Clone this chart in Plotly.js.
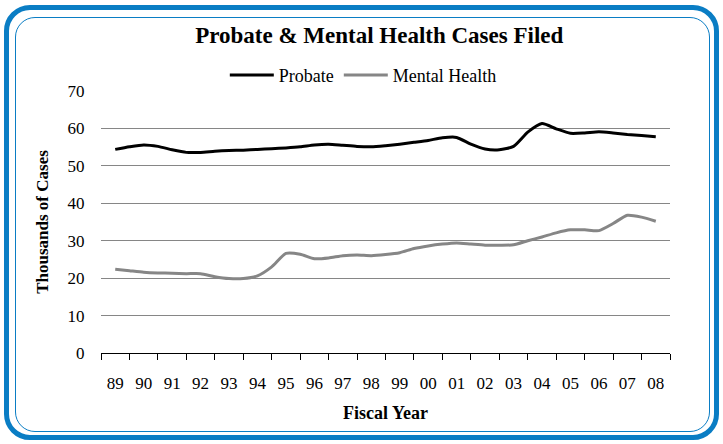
<!DOCTYPE html>
<html>
<head>
<meta charset="utf-8">
<script src="https://cdn.plot.ly/plotly-3.0.1.min.js"></script>
<style>
  html, body { margin: 0; padding: 0; background: #ffffff; }
  #wrap { position: relative; width: 723px; height: 444px; overflow: hidden; }
  #outer { position: absolute; left: 4px; top: 5px; width: 705px; height: 425px;
           border: 5px solid #0A7DC4; border-radius: 26px; }
  #inner { position: absolute; left: 15px; top: 17px; width: 693px; height: 413px;
           border: 1.5px solid #0A7DC4; border-radius: 20px; }
  #chart { position: absolute; left: 0; top: 0; width: 723px; height: 444px; }
</style>
</head>
<body>
<div id="wrap">
  <div id="outer"></div>
  <div id="inner"></div>
  <div id="chart"></div>
</div>
<script>
// Fiscal year tick labels
const yearLabels = ['89','90','91','92','93','94','95','96','97','98','99','00','01','02','03','04','05','06','07','08'];
const yearValues = [1989,1990,1991,1992,1993,1994,1995,1996,1997,1998,1999,2000,2001,2002,2003,2004,2005,2006,2007,2008];

// Half-year sample times
const sampleTimes = [1989,1989.5,1990,1990.5,1991,1991.5,1992,1992.5,1993,1993.5,1994,1994.5,1995,1995.5,
  1996,1996.5,1997,1997.5,1998,1998.5,1999,1999.5,2000,2000.5,2001,2001.5,2002,2002.5,2003,2003.5,
  2004,2004.5,2005,2005.5,2006,2006.5,2007,2007.5,2008];

// Thousands of cases filed
const probate = [54.4,55.1,55.6,55.2,54.3,53.6,53.6,53.9,54.1,54.2,54.4,54.6,54.8,55.1,
  55.6,55.8,55.5,55.2,55.1,55.4,55.8,56.3,56.8,57.5,57.6,55.8,54.5,54.3,55.2,59.0,
  61.3,59.9,58.7,58.8,59.1,58.8,58.4,58.1,57.8];
const mentalHealth = [22.4,22.0,21.6,21.4,21.3,21.2,21.2,20.4,19.9,19.9,20.6,23.0,26.6,26.4,
  25.2,25.4,26.0,26.2,26.0,26.3,26.8,27.9,28.6,29.1,29.4,29.1,28.8,28.8,28.9,30.0,
  31.0,32.1,32.9,32.9,32.7,34.6,36.8,36.3,35.2];

const boundaries = yearValues.map(v => v - 0.5).concat([yearValues[yearValues.length - 1] + 0.5]);

const font = 'Liberation Serif, Times New Roman, serif';

const traces = [
  { x: sampleTimes, y: probate, name: 'Probate', type: 'scatter', mode: 'lines',
    line: { color: '#000000', width: 3, shape: 'spline', smoothing: 0.6 } },
  { x: sampleTimes, y: mentalHealth, name: 'Mental Health', type: 'scatter', mode: 'lines',
    line: { color: '#868686', width: 3, shape: 'spline', smoothing: 0.6 } }
];

const layout = {
  width: 723, height: 444,
  paper_bgcolor: 'rgba(0,0,0,0)',
  plot_bgcolor: 'rgba(0,0,0,0)',
  margin: { l: 101, r: 53, t: 91, b: 91 },
  font: { family: font, color: '#000000' },
  title: { text: '<b>Probate & Mental Health Cases Filed</b>', font: { family: font, size: 23, color: '#000' },
           xref: 'paper', x: 0.489, xanchor: 'center', yref: 'container', y: 0.921, yanchor: 'middle' },
  showlegend: true,
  legend: { orientation: 'h', xref: 'paper', x: 0.461, xanchor: 'center', yref: 'paper', y: 1.06, yanchor: 'middle',
            font: { family: font, size: 18, color: '#000' }, bgcolor: 'rgba(0,0,0,0)', itemwidth: 44 },
  xaxis: {
    range: [1988.5, 2008.5], tickmode: 'array', tickvals: yearValues, ticktext: yearLabels,
    ticks: 'outside', ticklen: 14, tickcolor: 'rgba(0,0,0,0)',
    minor: { tickmode: 'array', tickvals: boundaries, ticks: 'outside', ticklen: 6, tickcolor: '#000', tickwidth: 1, showgrid: false },
    showgrid: false, zeroline: false, showline: true, linecolor: '#000', linewidth: 1.2,
    tickfont: { family: font, size: 17, color: '#000' },
    title: { text: '<b>Fiscal Year</b>', font: { family: font, size: 18, color: '#000' }, standoff: 14 }
  },
  yaxis: {
    range: [0, 70], tickmode: 'array', tickvals: [0,10,20,30,40,50,60,70],
    ticks: 'outside', ticklen: 12, tickcolor: 'rgba(0,0,0,0)',
    showgrid: true, gridcolor: '#868686', gridwidth: 1, zeroline: false, showline: false,
    tickfont: { family: font, size: 17, color: '#000' },
    title: { text: '<b>Thousands of Cases</b>', font: { family: font, size: 17, color: '#000' }, standoff: 14 }
  }
};

Plotly.newPlot('chart', traces, layout, { displayModeBar: false, staticPlot: true });
</script>
</body>
</html>
